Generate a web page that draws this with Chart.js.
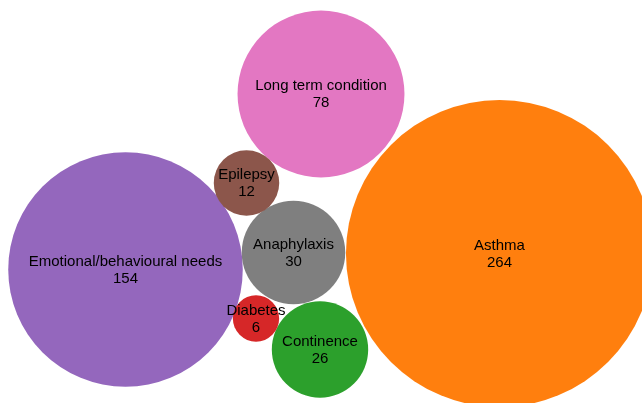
<html>
<head>
    <meta charset="utf-8">
    <script src="https://cdn.jsdelivr.net/npm/chart.js@4/dist/chart.umd.min.js"></script>
    <title>Needs</title>
    <style>
        body { margin: 0; background: #fff; }
        #wrap { width: 642px; height: 403px; }
    </style>
</head>
<body>
    <div id="wrap"><canvas id="bubbles"></canvas></div>
    <script>
        // categories and counts
        const categories = ['Asthma', 'Emotional/behavioural needs', 'Long term condition',
                            'Anaphylaxis', 'Continence', 'Epilepsy', 'Diabetes'];
        const counts = [264, 154, 78, 30, 26, 12, 6];
        // packed layout centres (layout units, 642 x 403 frame)
        const packX = [499.5, 125.5, 321, 293.5, 320, 246.5, 256];
        const packY = [253.5, 269.5, 94, 252.5, 349.5, 183, 318.5];
        const colors = ['#ff7f0e', '#9467bd', '#e377c2', '#7f7f7f', '#2ca02c', '#8c564b', '#d62728'];

        const points = [];
        for (let i = 0; i < categories.length; i++) {
            points.push({ x: packX[i], y: packY[i], v: counts[i] });
        }

        const labelPlugin = {
            id: 'bubbleLabels',
            afterDatasetsDraw(chart) {
                const ctx = chart.ctx;
                const meta = chart.getDatasetMeta(0);
                ctx.save();
                ctx.font = '15px "Liberation Sans", Arial, sans-serif';
                ctx.fillStyle = '#000';
                ctx.textAlign = 'center';
                ctx.textBaseline = 'middle';
                meta.data.forEach(function (el, i) {
                    ctx.fillText(categories[i], el.x, el.y - 8);
                    ctx.fillText(String(counts[i]), el.x, el.y + 9);
                });
                ctx.restore();
            }
        };

        new Chart(document.getElementById('bubbles'), {
            type: 'bubble',
            data: {
                datasets: [{
                    data: points,
                    backgroundColor: colors,
                    borderWidth: 0,
                    hoverBorderWidth: 0,
                    radius: function (c) { return 9.45 * Math.sqrt(c.raw.v); }
                }]
            },
            options: {
                responsive: true,
                maintainAspectRatio: false,
                animation: false,
                layout: { padding: 0, autoPadding: false },
                plugins: { legend: { display: false }, tooltip: { enabled: false } },
                scales: {
                    x: { type: 'linear', min: 0, max: 642, display: false },
                    y: { type: 'linear', min: 0, max: 403, reverse: true, display: false }
                }
            },
            plugins: [labelPlugin]
        });
    </script>
</body>
</html>
